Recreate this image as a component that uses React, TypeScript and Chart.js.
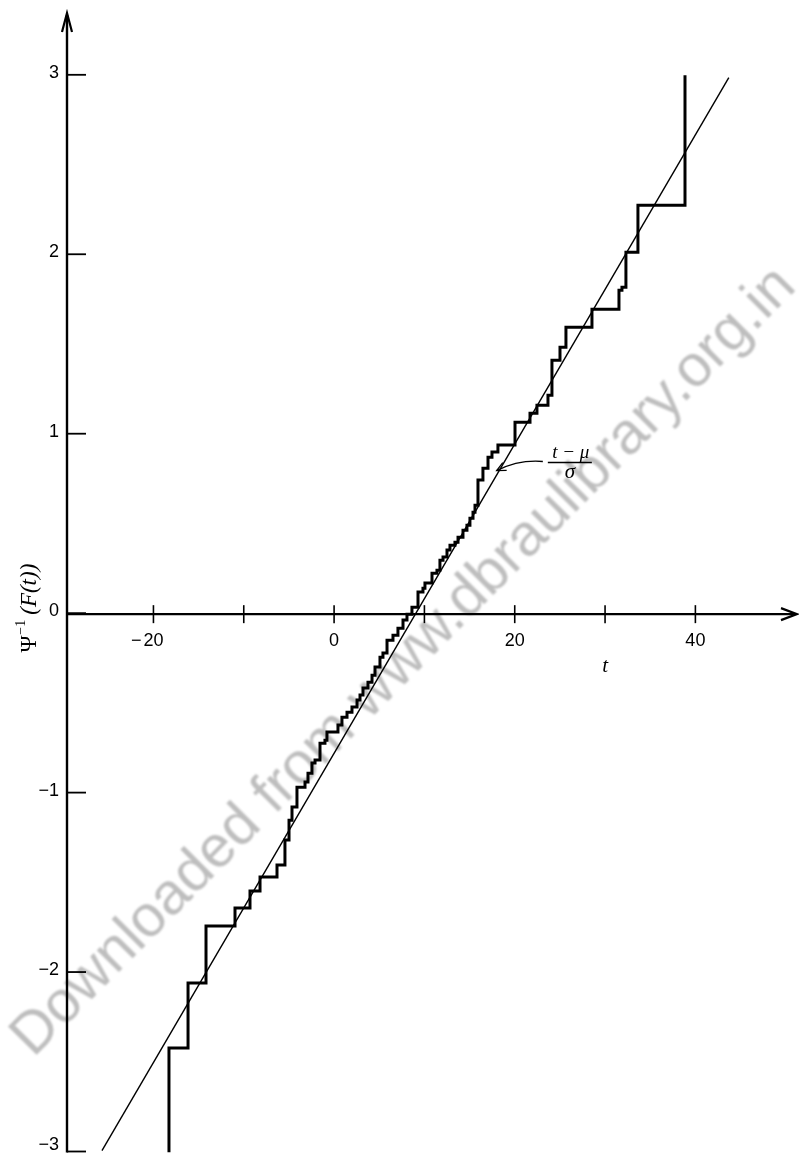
import React, { useEffect, useRef } from "react";
import { Chart, registerables } from "chart.js";

Chart.register(...registerables);

// ---- data ----
// empirical step curve: jump location t and level after the jump
const stepT = [
  -18.28, -18.28, -16.17, -14.18, -10.97, -9.31, -8.2, -6.32, -5.44, -4.99,
  -4.66, -4.11, -3.22, -2.89, -2.45, -2.11, -1.56, -1.01, -0.79, 0.43,
  0.87, 1.43, 1.98, 2.54, 2.87, 3.2, 3.75, 4.2, 4.53, 5.08,
  5.41, 5.86, 6.52, 7.07, 7.63, 8.07, 8.62, 9.29, 9.84, 10.06,
  10.84, 11.39, 11.72, 12.06, 12.5, 12.83, 13.38, 13.72, 14.27, 14.71,
  15.04, 15.38, 15.6, 15.93, 16.48, 17.04, 17.48, 18.14, 20.03, 21.69,
  22.46, 23.68, 24.12, 25.01, 25.67, 28.55, 31.54, 31.87, 32.31, 33.64,
  38.85,
];
const stepY = [
  -3.0, -2.418, -2.056, -1.738, -1.638, -1.543, -1.465, -1.398, -1.259, -1.148,
  -1.075, -0.964, -0.936, -0.886, -0.83, -0.813, -0.719, -0.702, -0.657, -0.618,
  -0.574, -0.546, -0.518, -0.479, -0.451, -0.412, -0.379, -0.34, -0.295, -0.24,
  -0.217, -0.145, -0.117, -0.078, -0.033, 0.0, 0.039, 0.123, 0.145, 0.173,
  0.228, 0.245, 0.301, 0.318, 0.357, 0.384, 0.401, 0.429, 0.468, 0.496,
  0.535, 0.568, 0.607, 0.747, 0.813, 0.875, 0.903, 0.942, 1.07, 1.12,
  1.164, 1.22, 1.415, 1.487, 1.599, 1.699, 1.805, 1.822, 2.017, 2.279,
  3.003,
];
// fitted straight line (t - mu)/sigma, its two visible end points
const fitT = [-25.7, 43.7];
const fitY = [-2.99, 2.99];

const xTickValues = [-20, -10, 0, 10, 20, 30, 40];
const xTickLabels = ["\u221220", "", "0", "", "20", "", "40"];
const yTickValues = [3, 2, 1, 0, -1, -2, -3];
const yTickLabels = ["3", "2", "1", "0", "\u22121", "\u22122", "\u22123"];

const xTitle = "t";
const yTitleMain = "\u03A8";
const yTitleSup = "\u22121";
const yTitleRest = "(F(t))";
const noteNumerator = "t \u2212 \u03BC";
const noteDenominator = "\u03C3";
const watermarkText = "Downloaded from www.dbraulibrary.org.in";

// scale ranges
const X_MIN = -29.57;
const X_MAX = 51.25;
const Y_MIN = -3.0;
const Y_MAX = 3.35;
const X_TITLE_AT = 30; // t value under which the axis title sits
const NOTE_TIP = { t: 18.0, y: 0.8 };
const NOTE_LABEL = { t: 26.1, y: 0.845 };

const SERIF = '"Liberation Serif", "DejaVu Serif", serif';
const SANS = '"Liberation Sans", Arial, sans-serif';

const bookPlugin = {
  id: "bookAxes",
  beforeDatasetsDraw(chart: any) {
    const { ctx } = chart;
    ctx.save();
    ctx.translate(404, 662);
    ctx.rotate((-45.2 * Math.PI) / 180);
    ctx.font = `58px ${SANS}`;
    const w = ctx.measureText(watermarkText).width;
    const k = 1085 / w;
    ctx.scale(k, k);
    try {
      ctx.filter = "blur(1.2px)";
    } catch (e) {
      /* ignore */
    }
    ctx.fillStyle = "rgba(150,150,150,0.62)";
    ctx.textAlign = "center";
    ctx.textBaseline = "middle";
    ctx.fillText(watermarkText, 0, 0);
    ctx.restore();
  },
  afterDatasetsDraw(chart: any) {
    const { ctx } = chart;
    const xs = chart.scales.x;
    const ys = chart.scales.y;
    const xLeft = xs.getPixelForValue(X_MIN);
    const xRight = xs.getPixelForValue(X_MAX);
    const yZero = ys.getPixelForValue(0);
    const yTop = ys.getPixelForValue(Y_MAX);
    const yBottom = ys.getPixelForValue(Y_MIN);
    const H = chart.height;

    ctx.save();
    ctx.strokeStyle = "#000";
    ctx.fillStyle = "#000";
    ctx.lineCap = "butt";

    // axes
    ctx.lineWidth = 2.4;
    ctx.beginPath();
    ctx.moveTo(xLeft, yBottom);
    ctx.lineTo(xLeft, yTop + 2);
    ctx.moveTo(xLeft, yZero);
    ctx.lineTo(xRight - 2, yZero);
    ctx.stroke();

    // arrow heads
    ctx.lineWidth = 2.2;
    ctx.beginPath();
    ctx.moveTo(xLeft - 5, yTop + 19);
    ctx.lineTo(xLeft, yTop);
    ctx.lineTo(xLeft + 5, yTop + 19);
    ctx.moveTo(xRight - 16, yZero - 6);
    ctx.lineTo(xRight, yZero);
    ctx.lineTo(xRight - 16, yZero + 6);
    ctx.stroke();

    // x ticks and labels
    ctx.lineWidth = 1.6;
    ctx.font = `18px ${SANS}`;
    ctx.textBaseline = "middle";
    xTickValues.forEach((v, i) => {
      const px = xs.getPixelForValue(v);
      ctx.beginPath();
      ctx.moveTo(px, yZero - 9);
      ctx.lineTo(px, yZero + 9);
      ctx.stroke();
      const lab = xTickLabels[i];
      if (!lab) return;
      const ly = yZero + 27;
      if (lab.startsWith("\u2212")) {
        const digits = lab.slice(1);
        const dw = ctx.measureText(digits).width;
        ctx.textAlign = "center";
        ctx.fillText(digits, px, ly);
        ctx.textAlign = "right";
        ctx.fillText("\u2212", px - dw / 2 - 2, ly);
      } else {
        ctx.textAlign = "center";
        ctx.fillText(lab, px, ly);
      }
    });

    // y ticks and labels
    yTickValues.forEach((v, i) => {
      const py = ys.getPixelForValue(v);
      ctx.lineWidth = 1.8;
      ctx.beginPath();
      ctx.moveTo(xLeft, py - 1);
      ctx.lineTo(xLeft + 19, py - 1);
      ctx.stroke();
      ctx.textAlign = "right";
      ctx.textBaseline = "middle";
      ctx.fillText(yTickLabels[i], xLeft - 8, Math.min(py - 3, H - 8));
    });

    // x title
    ctx.font = `italic 21px ${SERIF}`;
    ctx.textAlign = "center";
    ctx.textBaseline = "middle";
    ctx.fillText(xTitle, xs.getPixelForValue(X_TITLE_AT), yZero + 52);

    // y title (rotated)
    ctx.save();
    ctx.translate(xLeft - 39, yZero - 6);
    ctx.rotate(-Math.PI / 2);
    ctx.textBaseline = "alphabetic";
    ctx.textAlign = "left";
    const mainFont = `23px ${SERIF}`;
    const supFont = `14px ${SERIF}`;
    const restFont = `italic 23px ${SERIF}`;
    ctx.font = mainFont;
    const w1 = ctx.measureText(yTitleMain).width;
    ctx.font = supFont;
    const w2 = ctx.measureText(yTitleSup).width;
    ctx.font = restFont;
    const w3 = ctx.measureText(yTitleRest).width;
    const gap = 3;
    const total = w1 + w2 + w3 + gap * 2;
    let cx = -total / 2;
    ctx.font = mainFont;
    ctx.fillText(yTitleMain, cx, 8);
    cx += w1 + 1;
    ctx.font = supFont;
    ctx.fillText(yTitleSup, cx, -3);
    cx += w2 + gap * 2 - 1;
    ctx.font = restFont;
    ctx.fillText(yTitleRest, cx, 8);
    ctx.restore();

    // annotation (t - mu)/sigma with arrow
    const tipX = xs.getPixelForValue(NOTE_TIP.t);
    const tipY = ys.getPixelForValue(NOTE_TIP.y);
    const lx = xs.getPixelForValue(NOTE_LABEL.t);
    const lyy = ys.getPixelForValue(NOTE_LABEL.y);
    ctx.lineWidth = 1.4;
    ctx.beginPath();
    ctx.moveTo(lx - 22, lyy);
    ctx.lineTo(lx + 22, lyy);
    ctx.stroke();
    ctx.font = `italic 19px ${SERIF}`;
    ctx.textAlign = "center";
    ctx.textBaseline = "alphabetic";
    ctx.fillText(noteNumerator, lx + 1, lyy - 5);
    ctx.font = `italic 21px ${SERIF}`;
    ctx.fillText(noteDenominator, lx, lyy + 15);
    // curved arrow
    const sx = lx - 27;
    const sy = lyy - 1;
    const cpx = (sx + tipX) / 2 - 1;
    const cpy = Math.min(sy, tipY) - 2;
    ctx.lineWidth = 1.3;
    ctx.beginPath();
    ctx.moveTo(sx, sy);
    ctx.quadraticCurveTo(cpx, cpy, tipX, tipY);
    ctx.stroke();
    const ang = Math.atan2(tipY - cpy, tipX - cpx);
    const hl = 10;
    ctx.beginPath();
    ctx.moveTo(tipX - hl * Math.cos(ang - 0.45), tipY - hl * Math.sin(ang - 0.45));
    ctx.lineTo(tipX, tipY);
    ctx.lineTo(tipX - hl * Math.cos(ang + 0.45), tipY - hl * Math.sin(ang + 0.45));
    ctx.stroke();

    ctx.restore();
  },
};

export default function App() {
  const canvasRef = useRef<HTMLCanvasElement | null>(null);

  useEffect(() => {
    document.body.style.margin = "0";
    const canvas = canvasRef.current;
    if (!canvas) return;
    const n = Math.min(stepT.length, stepY.length);
    const stepData = [];
    for (let i = 0; i < n; i++) stepData.push({ x: stepT[i], y: stepY[i] });
    const fitData = fitT.map((t, i) => ({ x: t, y: fitY[i] }));

    const chart = new Chart(canvas, {
      type: "line",
      data: {
        datasets: [
          {
            label: "F(t)",
            data: stepData,
            stepped: "before",
            borderColor: "#000",
            borderWidth: 3,
            pointRadius: 0,
            fill: false,
            borderJoinStyle: "miter",
          },
          {
            label: "(t - \u03BC)/\u03C3",
            data: fitData,
            borderColor: "#000",
            borderWidth: 1.4,
            pointRadius: 0,
            fill: false,
          },
        ],
      },
      options: {
        responsive: false,
        animation: false,
        events: [],
        layout: { padding: { left: 67, right: 2, top: 13, bottom: 0.5 } },
        plugins: {
          legend: { display: false },
          tooltip: { enabled: false },
        },
        scales: {
          x: { type: "linear", min: X_MIN, max: X_MAX, display: false },
          y: { type: "linear", min: Y_MIN, max: Y_MAX, display: false },
        },
      },
      plugins: [bookPlugin],
    } as any);
    return () => chart.destroy();
  }, []);

  return (
    <div style={{ width: 799, height: 1153, background: "#fff" }}>
      <canvas ref={canvasRef} width={799} height={1153} style={{ display: "block" }} />
    </div>
  );
}
